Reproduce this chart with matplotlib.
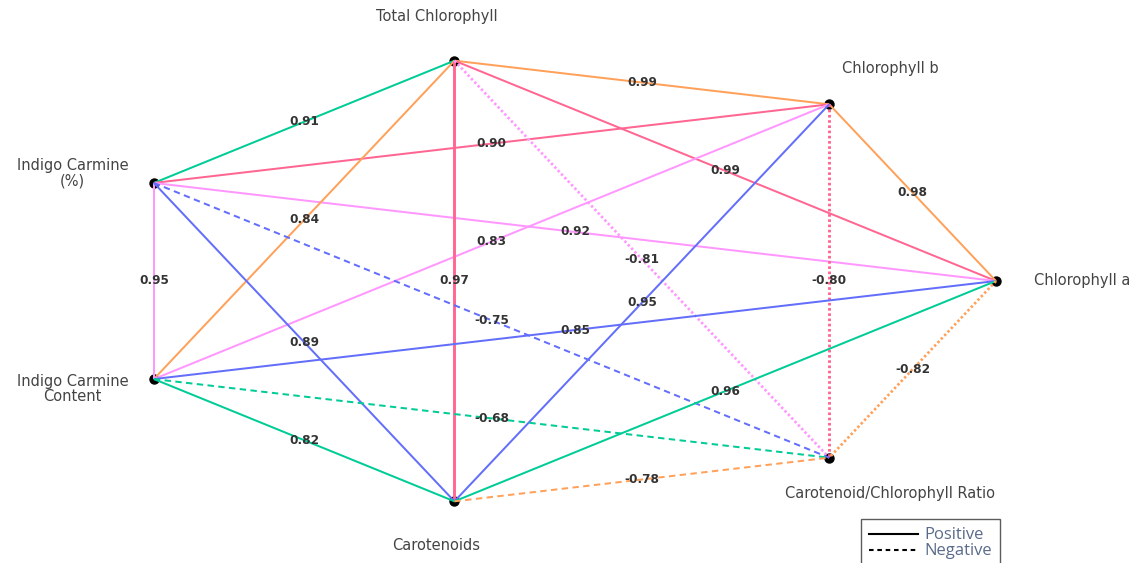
import numpy as np
import matplotlib
matplotlib.use("Agg")
import matplotlib.pyplot as plt
from matplotlib.lines import Line2D

# ---- data ----
nodes = ["Chlorophyll a", "Chlorophyll b", "Total Chlorophyll", "Indigo Carmine\n(%)",
         "Indigo Carmine\nContent", "Carotenoids", "Carotenoid/Chlorophyll Ratio"]
src = ["Indigo Carmine\n(%)", "Total Chlorophyll", "Indigo Carmine\n(%)", "Total Chlorophyll",
       "Chlorophyll b", "Indigo Carmine\n(%)", "Total Chlorophyll", "Indigo Carmine\nContent",
       "Total Chlorophyll", "Total Chlorophyll", "Chlorophyll b", "Chlorophyll b",
       "Indigo Carmine\n(%)", "Indigo Carmine\n(%)", "Indigo Carmine\n(%)", "Indigo Carmine\nContent",
       "Indigo Carmine\nContent", "Indigo Carmine\nContent", "Carotenoids", "Chlorophyll a",
       "Carotenoids"]
dst = ["Total Chlorophyll", "Chlorophyll b", "Chlorophyll b", "Chlorophyll a",
       "Chlorophyll a", "Chlorophyll a", "Indigo Carmine\nContent", "Chlorophyll b",
       "Carotenoids", "Carotenoid/Chlorophyll Ratio", "Carotenoid/Chlorophyll Ratio", "Carotenoids",
       "Indigo Carmine\nContent", "Carotenoids", "Carotenoid/Chlorophyll Ratio", "Chlorophyll a",
       "Carotenoid/Chlorophyll Ratio", "Carotenoids", "Chlorophyll a", "Carotenoid/Chlorophyll Ratio",
       "Carotenoid/Chlorophyll Ratio"]
corr = [0.91, 0.99, 0.90, 0.99, 0.98, 0.92, 0.84, 0.83, 0.97, -0.81, -0.80, 0.95,
        0.95, 0.89, -0.75, 0.85, -0.68, 0.82, 0.96, -0.82, -0.78]
colors = ["#00CC96", "#FFA15A", "#FF6692", "#FF6692", "#FFA15A", "#FF97FF", "#FFA15A", "#FF97FF",
          "#FF6692", "#FF97FF", "#FF6692", "#636EFA", "#FF97FF", "#636EFA", "#636EFA", "#636EFA",
          "#00CC96", "#00CC96", "#00CC96", "#FFA15A", "#FFA15A"]
legend_labels = ["Positive", "Negative"]

# ---- layout (heptagon on an ellipse) ----
n = len(nodes)
ang = 2 * np.pi * np.arange(n) / n
pos = {name: (np.cos(a), np.sin(a)) for name, a in zip(nodes, ang)}

W, H = 1146, 563
fig = plt.figure(figsize=(W / 100, H / 100), dpi=100)
ax = fig.add_axes([0, 0, 1, 1])
cx, cy, sx, sy = 553.0, 281.0, 443.0, 226.0
ax.set_xlim(-cx / sx, (W - cx) / sx)
ax.set_ylim(-(H - cy) / sy, cy / sy)
ax.axis("off")

lw = 2 * 72 / 100
chl_nodes = ("Total Chlorophyll", "Chlorophyll b", "Chlorophyll a")
for s, d, r, c in zip(src, dst, corr, colors):
    x0, y0 = pos[s]
    x1, y1 = pos[d]
    w = lw
    if r >= 0:
        ls = "-"
    elif s in chl_nodes:
        ls = (0, (0.9, 0.9))
        w = lw * 1.35
    else:
        ls = (0, (3.2, 2.2))
    vertical = abs(x0 - x1) < 1e-6 and abs(x0) < 0.8
    if vertical:
        w = lw * 1.45
    ax.plot([x0, x1], [y0, y1], color=c, lw=w, linestyle=ls, zorder=2,
            solid_capstyle="butt", dash_capstyle="butt")
    ax.text((x0 + x1) / 2, (y0 + y1) / 2, f"{r:.2f}", ha="center", va="center",
            fontsize=8.7, fontweight="bold", color="#333333", family="DejaVu Sans", zorder=4)

# nodes
xs = [pos[k][0] for k in nodes]
ys = [pos[k][1] for k in nodes]
ax.scatter(xs, ys, s=42, color="black", zorder=1)

# node labels
for name in nodes:
    x, y = pos[name]
    fy = 1.1 if "Indigo" in name else 1.2
    lx, ly, ha = 1.21 * x + 0.006, fy * y, "center"
    if name == "Chlorophyll a":
        lx, ha = x + 38 / sx, "left"
    ax.text(lx, ly, name, ha=ha, va="center", fontsize=10.5, color="#444444",
            family="DejaVu Sans", linespacing=1.05, zorder=5)

# legend
handles = [Line2D([0], [0], color="black", lw=1.5, linestyle="-"),
           Line2D([0], [0], color="black", lw=1.5, linestyle=(0, (2.2, 1.8)))]
leg = ax.legend(handles, legend_labels, loc="upper left",
                bbox_to_anchor=(861 / W, 1 - 519 / H), frameon=True, fancybox=False,
                prop={"family": "Open Sans", "size": 12}, labelcolor="#5a6b8a",
                handlelength=2.9, borderpad=0.5, labelspacing=0.0, handletextpad=0.4,
                borderaxespad=0)
leg.get_frame().set_edgecolor("#333333")
leg.get_frame().set_linewidth(1.0)

fig.savefig("out.png", dpi=100)
